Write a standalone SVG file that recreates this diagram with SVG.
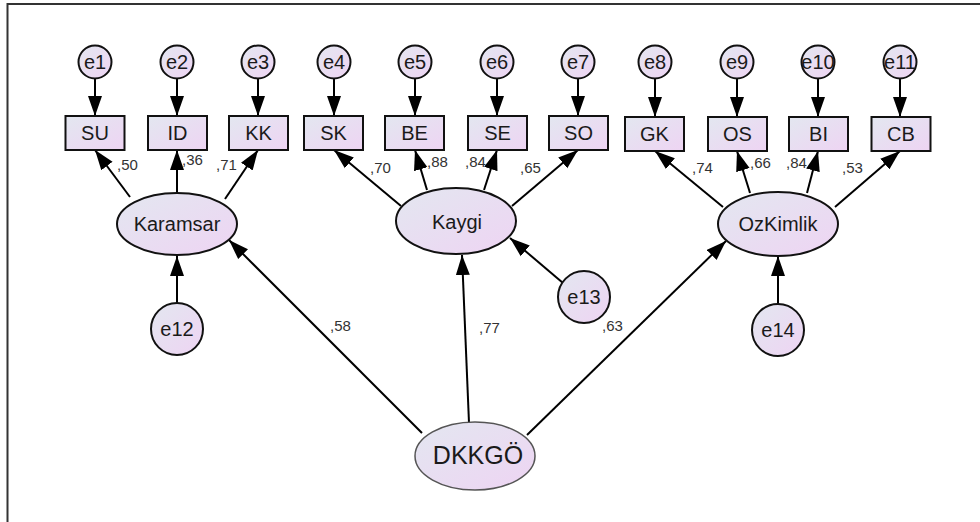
<svg xmlns="http://www.w3.org/2000/svg" width="980" height="522" viewBox="0 0 980 522">
<defs>
<linearGradient id="g" x1="0" y1="0" x2="1" y2="1">
<stop offset="0" stop-color="#e3e7f0"/>
<stop offset="1" stop-color="#eed4f3"/>
</linearGradient>
<marker id="ah" markerUnits="userSpaceOnUse" markerWidth="21" markerHeight="15" refX="20" refY="7.5" orient="auto" viewBox="0 0 21 15">
<path d="M0,0.5 L20,7.5 L0,14.5 z" fill="#000"/>
</marker>
<style>
.box{fill:url(#g);stroke:#111;stroke-width:2}
.lat{fill:url(#g);stroke:#111;stroke-width:2}
.top{fill:url(#g);stroke:#555;stroke-width:1.5}
.t{font-family:"Liberation Sans",Arial,sans-serif;font-size:20px;fill:#1a1a1a;text-anchor:middle}
.big{font-size:25px}
.lb{font-family:"Liberation Sans",Arial,sans-serif;font-size:15px;fill:#333}
.c line{stroke:#000;stroke-width:2;marker-end:url(#ah)}
</style>
</defs>
<rect width="980" height="522" fill="#fff"/>
<path d="M7.5,522 V4 H980" fill="none" stroke="#333" stroke-width="2"/>

<g class="c" id="connectors">
<line x1="95" y1="79" x2="95" y2="116"/>
<line x1="177" y1="79" x2="177" y2="116"/>
<line x1="258" y1="79" x2="258" y2="116"/>
<line x1="334" y1="79" x2="334" y2="116"/>
<line x1="415" y1="79" x2="415" y2="116"/>
<line x1="497" y1="79" x2="497" y2="116"/>
<line x1="578" y1="79" x2="578" y2="116"/>
<line x1="655" y1="79" x2="655" y2="117"/>
<line x1="737" y1="79" x2="737" y2="117"/>
<line x1="818" y1="79" x2="818" y2="117"/>
<line x1="900" y1="79" x2="900" y2="117"/>
<line x1="130" y1="197" x2="95" y2="150"/>
<line x1="177" y1="193" x2="177" y2="150"/>
<line x1="225" y1="199" x2="258" y2="150"/>
<line x1="401" y1="206" x2="334" y2="150"/>
<line x1="427" y1="190" x2="415" y2="150"/>
<line x1="484" y1="190" x2="497" y2="150"/>
<line x1="512" y1="206" x2="578" y2="150"/>
<line x1="723" y1="207" x2="655" y2="151"/>
<line x1="750" y1="193" x2="737" y2="151"/>
<line x1="807" y1="193" x2="818" y2="151"/>
<line x1="835" y1="207" x2="900" y2="151"/>
<line x1="422" y1="433" x2="229" y2="240"/>
<line x1="469" y1="423" x2="462" y2="255"/>
<line x1="527" y1="435" x2="726" y2="241"/>
<line x1="177" y1="303" x2="177" y2="256"/>
<line x1="563" y1="283" x2="510" y2="238"/>
<line x1="778" y1="304" x2="778" y2="256"/>
</g>

<g id="e1"><circle class="lat" cx="95" cy="62" r="16.5"/><text class="t" x="95" y="69">e1</text></g>
<g id="e2"><circle class="lat" cx="177" cy="62" r="16.5"/><text class="t" x="177" y="69">e2</text></g>
<g id="e3"><circle class="lat" cx="258" cy="62" r="16.5"/><text class="t" x="258" y="69">e3</text></g>
<g id="e4"><circle class="lat" cx="334" cy="62" r="16.5"/><text class="t" x="334" y="69">e4</text></g>
<g id="e5"><circle class="lat" cx="415" cy="62" r="16.5"/><text class="t" x="415" y="69">e5</text></g>
<g id="e6"><circle class="lat" cx="497" cy="62" r="16.5"/><text class="t" x="497" y="69">e6</text></g>
<g id="e7"><circle class="lat" cx="578" cy="62" r="16.5"/><text class="t" x="578" y="69">e7</text></g>
<g id="e8"><circle class="lat" cx="655" cy="62" r="16.5"/><text class="t" x="655" y="69">e8</text></g>
<g id="e9"><circle class="lat" cx="737" cy="62" r="16.5"/><text class="t" x="737" y="69">e9</text></g>
<g id="e10"><circle class="lat" cx="818" cy="62" r="16.5"/><text class="t" x="818" y="69">e10</text></g>
<g id="e11"><circle class="lat" cx="900" cy="62" r="16.5"/><text class="t" x="900" y="69">e11</text></g>

<g id="SU"><rect class="box" x="65.5" y="116" width="59" height="34"/><text class="t" x="95" y="140">SU</text></g>
<g id="ID"><rect class="box" x="148" y="116" width="59" height="34"/><text class="t" x="177.5" y="140">ID</text></g>
<g id="KK"><rect class="box" x="229" y="116" width="59" height="34"/><text class="t" x="258.5" y="140">KK</text></g>
<g id="SK"><rect class="box" x="304" y="116" width="59" height="34"/><text class="t" x="333.5" y="140">SK</text></g>
<g id="BE"><rect class="box" x="385" y="116" width="59" height="34"/><text class="t" x="414.5" y="140">BE</text></g>
<g id="SE"><rect class="box" x="468" y="116" width="59" height="34"/><text class="t" x="497.5" y="140">SE</text></g>
<g id="SO"><rect class="box" x="549" y="116" width="59" height="34"/><text class="t" x="578.5" y="140">SO</text></g>
<g id="GK"><rect class="box" x="625" y="117" width="59" height="34"/><text class="t" x="654.5" y="141">GK</text></g>
<g id="OS"><rect class="box" x="708" y="117" width="59" height="34"/><text class="t" x="737.5" y="141">OS</text></g>
<g id="BI"><rect class="box" x="789" y="117" width="59" height="34"/><text class="t" x="818.5" y="141">BI</text></g>
<g id="CB"><rect class="box" x="871.5" y="117" width="59" height="34"/><text class="t" x="901" y="141">CB</text></g>

<g id="Karamsar"><ellipse class="lat" cx="177" cy="224" rx="60" ry="31"/><text class="t" x="177" y="231">Karamsar</text></g>
<g id="Kaygi"><ellipse class="lat" cx="456" cy="221" rx="60" ry="33"/><text class="t" x="457" y="229">Kaygi</text></g>
<g id="OzKimlik"><ellipse class="lat" cx="778" cy="224" rx="60" ry="32"/><text class="t" x="778" y="231">OzKimlik</text></g>

<g id="e12"><circle class="lat" cx="177" cy="329" r="26"/><text class="t" x="177" y="336">e12</text></g>
<g id="e13"><circle class="lat" cx="584" cy="297" r="26"/><text class="t" x="584" y="304">e13</text></g>
<g id="e14"><circle class="lat" cx="778" cy="330" r="26"/><text class="t" x="778" y="337">e14</text></g>

<g id="DKKGO"><ellipse class="top" cx="475" cy="456" rx="60" ry="34"/><text class="t big" x="478" y="464">DKKGÖ</text></g>

<g id="labels">
<text class="lb" x="117" y="170">,50</text>
<text class="lb" x="182" y="165">,36</text>
<text class="lb" x="216" y="170">,71</text>
<text class="lb" x="370" y="173">,70</text>
<text class="lb" x="427" y="167">,88</text>
<text class="lb" x="465" y="167">,84</text>
<text class="lb" x="520" y="173">,65</text>
<text class="lb" x="692" y="173">,74</text>
<text class="lb" x="750" y="168">,66</text>
<text class="lb" x="786" y="168">,84</text>
<text class="lb" x="842" y="173">,53</text>
<text class="lb" x="330" y="331">,58</text>
<text class="lb" x="479" y="333">,77</text>
<text class="lb" x="602" y="331">,63</text>
</g>
</svg>
